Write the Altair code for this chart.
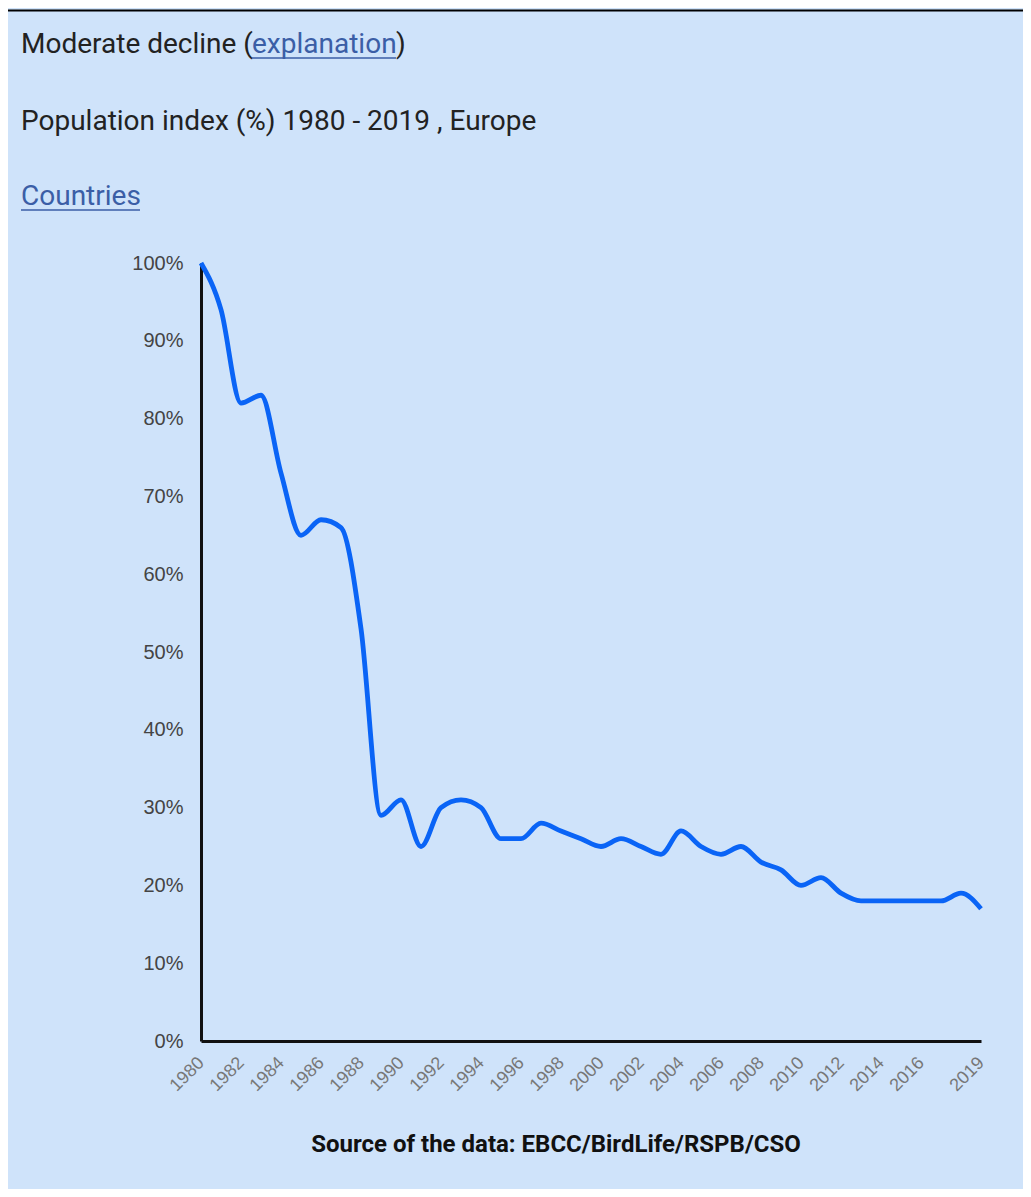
import altair as alt
import pandas as pd

years = list(range(1980, 2020))
index_pct = [100, 94, 82, 83, 73, 65, 67, 66, 53, 29,
             31, 25, 30, 31, 30, 26, 26, 28, 27, 26,
             25, 26, 25, 24, 27, 25, 24, 25, 23, 22,
             20, 21, 19, 18, 18, 18, 18, 18, 19, 17]
x_tick_values = [1980, 1982, 1984, 1986, 1988, 1990, 1992, 1994, 1996, 1998,
                 2000, 2002, 2004, 2006, 2008, 2010, 2012, 2014, 2016, 2019]
y_tick_values = [0, 10, 20, 30, 40, 50, 60, 70, 80, 90, 100]

title_text = "Moderate decline ("
link_text = "explanation"
close_text = ")"
subtitle_text = "Population index (%) 1980 - 2019 , Europe"
countries_text = "Countries"
source_text = "Source of the data: EBCC/BirdLife/RSPB/CSO"

df = pd.DataFrame({"year": years, "value": index_pct})

BG = "#cfe3fa"
LINK = "#3b5ea6"
TXT = "#222222"

line = alt.Chart(df).mark_line(
    color="#0a64f6", strokeWidth=4.8, interpolate="monotone"
).encode(
    x=alt.X("year:Q",
            scale=alt.Scale(domain=[1980, 2019], nice=False, zero=False),
            axis=alt.Axis(values=x_tick_values, format="d", title=None,
                          labelAngle=-45, labelAlign="right", labelBaseline="middle",
                          labelPadding=19, ticks=False, grid=False,
                          domainColor="#111111", domainWidth=3,
                          labelColor="#777777", labelFont="Liberation Sans",
                          labelFontSize=18, labelOverlap=False)),
    y=alt.Y("value:Q",
            scale=alt.Scale(domain=[0, 100], nice=False),
            axis=alt.Axis(values=y_tick_values, labelExpr="datum.value + '%'",
                          title=None, ticks=False, grid=False,
                          domainColor="#111111", domainWidth=3,
                          labelColor="#444444", labelFont="Liberation Sans",
                          labelFontSize=20, labelPadding=18)),
)


def txt(s, x, y, size, color, weight="normal", align="left"):
    return alt.Chart(pd.DataFrame({"t": [s]})).mark_text(
        font="Roboto", fontSize=size, color=color, fontWeight=weight,
        align=align, baseline="alphabetic"
    ).encode(x=alt.value(x), y=alt.value(y), text="t:N")


def rule(x1, x2, y, color, width):
    return alt.Chart(pd.DataFrame({"a": [0]})).mark_rule(
        color=color, strokeWidth=width
    ).encode(x=alt.value(x1), x2=alt.value(x2), y=alt.value(y))


layers = [
    rule(-193, 830, -252.5, "#000000", 2),
    txt(title_text, -180, -210, 28, TXT),
    txt(link_text, 51, -210, 28, LINK),
    txt(close_text, 195, -210, 28, TXT),
    rule(51, 195, -205, LINK, 1.5),
    txt(subtitle_text, -180, -133, 28, TXT),
    txt(countries_text, -180, -58, 28, LINK),
    rule(-180, -61, -53, LINK, 1.5),
    txt(source_text, 355, 889, 24, "#111111", weight="bold", align="center"),
    line,
]

chart = alt.layer(*layers).properties(
    width=780, height=778,
    padding={"left": 193, "top": 255, "right": 42, "bottom": 148},
    autosize="none",
).configure(background=BG).configure_view(stroke=None)

chart.save("out.html", embed_options={"renderer": "svg", "actions": False})
